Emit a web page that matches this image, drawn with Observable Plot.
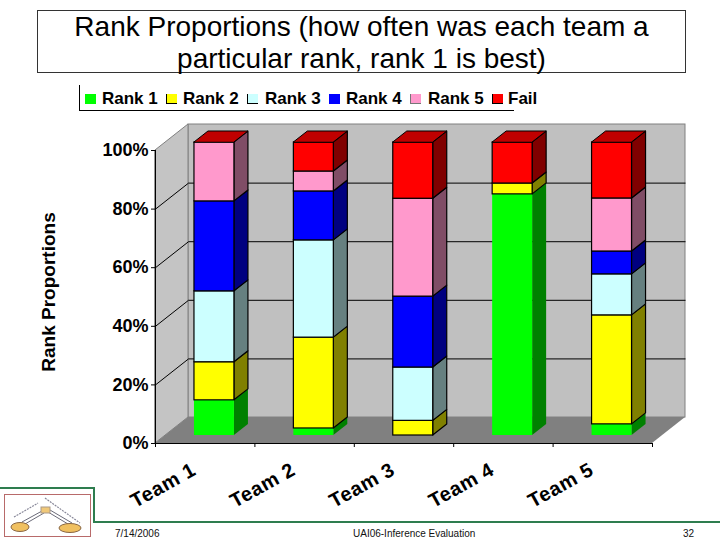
<!DOCTYPE html>
<html><head><meta charset="utf-8">
<script src="https://cdn.jsdelivr.net/npm/d3@7"></script>
<script src="https://cdn.jsdelivr.net/npm/@observablehq/plot@0.6"></script>
<style>
html,body{margin:0;padding:0;background:#fff;width:720px;height:540px;overflow:hidden;font-family:"Liberation Sans",Arial,sans-serif}
#page{position:relative;width:720px;height:540px}
#title{position:absolute;left:37px;top:10px;width:647px;height:61px;border:1px solid #333;text-align:center;font-size:28px;line-height:32px;color:#000;box-sizing:content-box}
#legend{position:absolute;left:79px;top:85px;width:434px;height:25px;border-left:1px solid #000;border-bottom:1px solid #000;font-weight:bold;font-size:17px;color:#000}
#legend span{position:absolute;top:4px;white-space:nowrap}
#legend i{position:absolute;top:9px;height:10px;width:11px;display:block;box-sizing:border-box}
#chart{position:absolute;left:0;top:112px}
#chart svg{display:block;overflow:visible}
.teamlabel text{letter-spacing:0.6px}
.foot{position:absolute;top:528px;font-size:10px;color:#111;white-space:nowrap}
.g{position:absolute;background:#2e7d4f}
#logo{position:absolute;left:0;top:488px}
</style></head><body>
<div id="page">
<div id="title">Rank Proportions (how often was each team a<br>particular rank, rank 1 is best)</div>
<div id="legend"></div>
<div id="chart"></div>
<div class="g" style="left:0;top:487px;width:95px;height:2px"></div>
<div class="g" style="left:93px;top:487px;width:2px;height:36px"></div>
<div class="g" style="left:93px;top:521px;width:627px;height:2px"></div>
<svg id="logo" width="93" height="52" viewBox="0 488 93 52">
<rect x="4.5" y="494.5" width="86" height="42" fill="#fff" stroke="#b86a6a"/>
<path d="M22 522L42 511M25 524L44 513M68 524L48 512M72 523L50 510" stroke="#445" stroke-width="0.8" fill="none"/>
<path d="M14 517L38 503M45 498L80 523" stroke="#889" stroke-width="1.2" stroke-dasharray="2 1" fill="none"/>
<rect x="41" y="507" width="9" height="6" fill="#f0c878" stroke="#a98"/>
<ellipse cx="20" cy="527" rx="9" ry="4.5" fill="#f0c060" stroke="#864"/>
<ellipse cx="70" cy="528" rx="11" ry="4.5" fill="#f0c060" stroke="#864"/>
</svg>
<div class="foot" style="left:115px">7/14/2006</div>
<div class="foot" style="left:353px">UAI06-Inference Evaluation</div>
<div class="foot" style="left:683px">32</div>
</div>
<script>
const teams = ["Team 1","Team 2","Team 3","Team 4","Team 5"];
const rankNames = ["Rank 1","Rank 2","Rank 3","Rank 4","Rank 5","Fail"];
const rank1 = [12, 2.4, 0, 82.3, 3.8];
const rank2 = [13, 31, 5, 3.7, 37.2];
const rank3 = [24.2, 33.2, 18.2, 0, 14];
const rank4 = [30.7, 16.7, 24.2, 0, 7.8];
const rank5 = [20.1, 6.8, 33.4, 0, 18.1];
const fail = [0, 9.9, 19.2, 14, 19.1];
const ranks = [rank1, rank2, rank3, rank4, rank5, fail];
const yTicks = [0, 20, 40, 60, 80, 100];

const frontColors = ["#00ff00","#ffff00","#ccffff","#0000ff","#ff99cc","#ff0000"];
const sideColors = ["#008000","#808000","#668080","#000080","#804d66","#800000"];
const outline = ["none","#000","#000","#000","#000","#000"];
const topColor = "#c00000";

// layout in scale units (x: team slots, y: percent)
const wallDX = 0.332, wallDY = 8.87;
const barDX = 0.141, barDY = 3.75, barW = 0.402, barX0 = 0.392, barY0 = 2.73;

const fronts = [], sides = [], tops = [];
teams.forEach((t, i) => {
  let cum = 0;
  const l = i + barX0, r = l + barW;
  ranks.forEach((s, k) => {
    const v = s[i];
    if (v > 0) {
      const lo = barY0 + cum, hi = lo + v;
      fronts.push({l, r, lo, hi, fill: frontColors[k], stroke: outline[k]});
      const id = t + k;
      sides.push({id, x1: r, x2: r, y1: lo, y2: hi, fill: sideColors[k], stroke: outline[k]});
      sides.push({id, x1: r + barDX, x2: r + barDX, y1: lo + barDY, y2: hi + barDY, fill: sideColors[k], stroke: outline[k]});
    }
    cum += v;
  });
  const top = barY0 + cum;
  tops.push({id: t, x1: l, x2: r, y1: top, y2: top});
  tops.push({id: t, x1: l + barDX, x2: r + barDX, y1: top + barDY, y2: top + barDY});
});

const leftWall = [{x1:0,x2:0,y1:0,y2:100},{x1:wallDX,x2:wallDX,y1:wallDY,y2:100+wallDY}];
const floor = [{x1:0,x2:5,y1:0,y2:0},{x1:wallDX,x2:5+wallDX,y1:wallDY,y2:wallDY}];
const gridTicks = yTicks.slice(1, -1);

const areaOpts = {x1:"x1",x2:"x2",y1:"y1",y2:"y2"};
const chart = Plot.plot({
  width: 720, height: 428,
  marginLeft: 155, marginRight: 68, marginTop: 38, marginBottom: 97,
  x: {domain:[0,5]},
  y: {domain:[0,100]},
  color: {type:"identity"},
  style: {background:"transparent", fontFamily:'"Liberation Sans",Arial,sans-serif'},
  marks: [
    Plot.rect([0],{x1:wallDX,x2:5+wallDX,y1:wallDY,y2:100+wallDY,fill:"#c0c0c0",stroke:"#808080"}),
    Plot.area(leftWall,{...areaOpts,fill:"#c4c4c4",stroke:"#808080"}),
    Plot.area(floor,{...areaOpts,fill:"#808080"}),
    Plot.link(gridTicks,{x1:wallDX,x2:5+wallDX,y1:d=>d+wallDY,y2:d=>d+wallDY,stroke:"#000",strokeWidth:1}),
    Plot.link(gridTicks,{x1:0,x2:wallDX,y1:d=>d,y2:d=>d+wallDY,stroke:"#000",strokeWidth:1}),
    Plot.area(sides,{...areaOpts,z:"id",fill:"fill",stroke:"stroke",strokeWidth:1.2}),
    Plot.rect(fronts,{x1:"l",x2:"r",y1:"lo",y2:"hi",fill:"fill",stroke:"stroke",strokeWidth:1.2,inset:0}),
    Plot.area(tops,{...areaOpts,z:"id",fill:topColor,stroke:"#000",strokeWidth:1}),
    Plot.ruleY([0],{x1:0,x2:5,stroke:"#000",strokeWidth:1}),
    Plot.ruleX([0],{y1:0,y2:100,stroke:"#000",strokeWidth:1}),
    Plot.axisY({ticks:yTicks,tickFormat:d=>d+"%",tickSize:4,tickPadding:3,label:null,fontSize:18,fontWeight:"bold",fill:"#000"}),
    Plot.axisX({ticks:[0,1,2,3,4,5],tickFormat:()=>"",tickSize:4,label:null}),
    Plot.text(["Rank Proportions"],{frameAnchor:"left",textAnchor:"middle",dx:-107,dy:-5,rotate:-90,fontSize:19,fontWeight:"bold",fill:"#000"}),
    Plot.text(teams,{x:(d,i)=>i+0.5,y:0,dx:-42,dy:42,rotate:-29,fontSize:20,fontWeight:"bold",fill:"#000",className:"teamlabel"})
  ]
});
document.getElementById("chart").appendChild(chart);

const legendX = [[5,22],[86,103],[167,185],[249,266],[330,348],[412,428]];
const swatchEdge = ["none","1px solid #000","1px solid #000","none","1px solid #777","1px solid #000"];
const legend = document.getElementById("legend");
rankNames.forEach((n,i)=>{
  const sw=document.createElement("i");
  sw.style.left=legendX[i][0]+"px";
  sw.style.background=frontColors[i];
  sw.style.borderLeft=swatchEdge[i];
  sw.style.borderBottom=swatchEdge[i];
  legend.appendChild(sw);
  const sp=document.createElement("span");
  sp.style.left=legendX[i][1]+"px";
  sp.textContent=n;
  legend.appendChild(sp);
});
</script>
</body></html>
